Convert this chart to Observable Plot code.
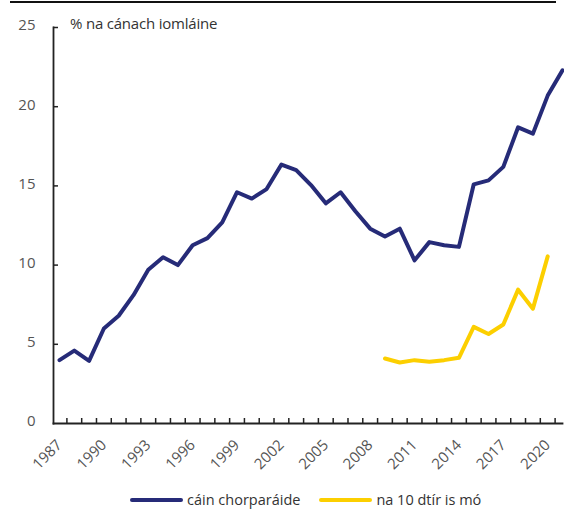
<!DOCTYPE html>
<html>
<head>
<meta charset="utf-8">
<script src="https://cdn.jsdelivr.net/npm/d3@7"></script>
<script src="https://cdn.jsdelivr.net/npm/@observablehq/plot@0.6"></script>
<style>
  html, body { margin: 0; padding: 0; background: #fff; }
  #wrap { position: relative; width: 564px; height: 509px; font-family: "Open Sans", sans-serif; }
  #topline { position: absolute; left: 10px; top: 1px; width: 546px; height: 0; border-top: 2px solid #111; }
  #title { position: absolute; left: 70px; top: 13px; font-size: 15px; color: #333; letter-spacing: -0.2px; white-space: nowrap; }
  #chart { position: absolute; left: 0; top: 0; }
  #legend { position: absolute; left: 130px; top: 490px; display: flex; align-items: center; font-size: 14.5px; color: #333; white-space: nowrap; }
  .sw { display: inline-block; width: 53px; height: 4px; border-radius: 2px; margin-right: 4px; }
</style>
</head>
<body>
<div id="wrap">
  <div id="chart"></div>
  <div id="topline"></div>
  <div id="title">% na cánach iomláine</div>
  <div id="legend"></div>
</div>
<script>
// Data
const years = [1987,1988,1989,1990,1991,1992,1993,1994,1995,1996,1997,1998,1999,2000,2001,2002,2003,2004,2005,2006,2007,2008,2009,2010,2011,2012,2013,2014,2015,2016,2017,2018,2019,2020,2021];
const corpTax = [4.0,4.6,3.95,6.0,6.8,8.1,9.7,10.5,10.0,11.25,11.7,12.7,14.6,14.2,14.8,16.35,16.0,15.05,13.9,14.6,13.4,12.3,11.8,12.3,10.3,11.45,11.25,11.15,15.1,15.35,16.2,18.7,18.3,20.7,22.3];
const top10Years = [2009,2010,2011,2012,2013,2014,2015,2016,2017,2018,2019,2020];
const top10 = [4.1,3.85,4.0,3.9,4.0,4.15,6.1,5.65,6.25,8.45,7.25,10.55];
const yTicks = [0,5,10,15,20,25];
const xLabelYears = [1987,1990,1993,1996,1999,2002,2005,2008,2011,2014,2017,2020];
const xTickPositions = [1987.5,1988.5,1989.5,1990.5,1991.5,1992.5,1993.5,1994.5,1995.5,1996.5,1997.5,1998.5,1999.5,2000.5,2001.5,2002.5,2003.5,2004.5,2005.5,2006.5,2007.5,2008.5,2009.5,2010.5,2011.5,2012.5,2013.5,2014.5,2015.5,2016.5,2017.5,2018.5,2019.5,2020.5];
const seriesNames = ["cáin chorparáide", "na 10 dtír is mó"];
const colors = ["#262b78", "#fccf00"];

const corpData = years.map((y, i) => ({year: y, value: corpTax[i]}));
const topData = top10Years.map((y, i) => ({year: y, value: top10[i]}));

const W = 564, H = 482, mL = 53, mR = 2, mT = 27, mB = 59;
const plotW = W - mL - mR, plotH = H - mT - mB;

const chart = Plot.plot({
  width: W, height: H,
  marginLeft: mL, marginRight: mR, marginTop: mT, marginBottom: mB,
  x: {domain: [1987, 2021], range: [59, 562]},
  y: {domain: [0, 25], range: [H - mB, mT]},
  style: {fontFamily: "Open Sans, sans-serif", fontSize: "14px", color: "#555", background: "transparent", overflow: "visible"},
  marks: [
    Plot.axisY({ticks: yTicks, tickSize: 0, tickPadding: 18, dy: -2, fontSize: 15, label: null, tickFormat: d => String(d)}),
    Plot.axisX({ticks: xLabelYears, tickSize: 0, tickRotate: -45, tickPadding: 19, fontSize: 15, label: null, tickFormat: d => String(d)}),
    Plot.tickY(yTicks.filter(d => d > 0), {y: d => d, insetRight: plotW - 5, stroke: "#222", strokeWidth: 1.5}),
    Plot.tickX(xTickPositions, {x: d => d, insetTop: plotH - 5, stroke: "#222", strokeWidth: 1.5}),
    Plot.frame({anchor: "left", stroke: "#222", strokeWidth: 1.8}),
    Plot.frame({anchor: "bottom", stroke: "#222", strokeWidth: 1.8}),
    Plot.line(corpData, {x: "year", y: "value", stroke: colors[0], strokeWidth: 4, strokeLinejoin: "round", strokeLinecap: "round"}),
    Plot.line(topData, {x: "year", y: "value", stroke: colors[1], strokeWidth: 4, strokeLinejoin: "round", strokeLinecap: "round"})
  ]
});
document.getElementById("chart").appendChild(chart);

const legend = document.getElementById("legend");
seriesNames.forEach((name, i) => {
  const item = document.createElement("span");
  item.style.display = "inline-flex";
  item.style.alignItems = "center";
  item.style.marginRight = i === 0 ? "19px" : "0";
  const sw = document.createElement("span");
  sw.className = "sw";
  sw.style.background = colors[i];
  const t = document.createElement("span");
  t.textContent = name;
  item.appendChild(sw);
  item.appendChild(t);
  legend.appendChild(item);
});
</script>
</body>
</html>
